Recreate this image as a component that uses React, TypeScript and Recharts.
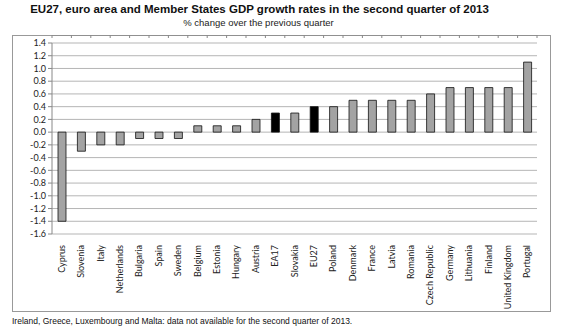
import { BarChart, Bar, XAxis, YAxis, CartesianGrid, ReferenceLine, Cell } from 'recharts';

const countries = [
  'Cyprus', 'Slovenia', 'Italy', 'Netherlands', 'Bulgaria', 'Spain', 'Sweden', 'Belgium', 'Estonia',
  'Hungary', 'Austria', 'EA17', 'Slovakia', 'EU27', 'Poland', 'Denmark', 'France', 'Latvia', 'Romania',
  'Czech Republic', 'Germany', 'Lithuania', 'Finland', 'United Kingdom', 'Portugal',
];
const growth = [
  -1.4, -0.3, -0.2, -0.2, -0.1, -0.1, -0.1, 0.1, 0.1,
  0.1, 0.2, 0.3, 0.3, 0.4, 0.4, 0.5, 0.5, 0.5, 0.5,
  0.6, 0.7, 0.7, 0.7, 0.7, 1.1,
];
const aggregates = ['EA17', 'EU27'];
const yTicks = [-1.6, -1.4, -1.2, -1.0, -0.8, -0.6, -0.4, -0.2, 0, 0.2, 0.4, 0.6, 0.8, 1.0, 1.2, 1.4];

const data = countries.map((c, i) => ({ name: c, value: growth[i] }));

const labelFont = 'Lato, "Open Sans", sans-serif';

function CountryTick(props: any) {
  const { x, y, payload } = props;
  return (
    <g transform={`translate(${x},${y + 3}) rotate(-90)`}>
      <text x={0} y={0} dy={3} textAnchor="end" fontSize={9} fontFamily={labelFont} fill="#222">
        {payload.value}
      </text>
    </g>
  );
}

// zero line with the small category tick marks hanging below it
function ZeroAxis(props: any) {
  const { x1, x2, y } = props;
  const n = data.length;
  const step = (x2 - x1) / n;
  const marks = [];
  for (let i = 0; i <= n; i++) {
    const x = x1 + i * step;
    marks.push(<line key={i} x1={x} x2={x} y1={y} y2={y + 3} stroke="#888" />);
  }
  return (
    <g>
      <line x1={x1} x2={x2} y1={y} y2={y} stroke="#888" />
      {marks}
    </g>
  );
}

export default function App() {
  return (
    <div style={{ position: 'absolute', left: 0, top: 0, width: 570, height: 328, background: '#fff', fontFamily: 'Arial, "Liberation Sans", sans-serif' }}>
      <div style={{ position: 'absolute', left: 0, width: 519, top: 3, textAlign: 'center', fontSize: 11.5, fontWeight: 'bold', color: '#111' }}>
        EU27, euro area and Member States GDP growth rates in the second quarter of 2013
      </div>
      <div style={{ position: 'absolute', left: 0, width: 517, top: 17, textAlign: 'center', fontSize: 9.5, color: '#222' }}>
        % change over the previous quarter
      </div>
      <div style={{ position: 'absolute', left: 12, top: 35, width: 539, height: 277, border: '1px solid #999', boxSizing: 'border-box' }} />
      <div style={{ position: 'absolute', left: 12, top: 35 }}>
        <BarChart width={539} height={277} data={data} margin={{ top: 8, right: 14, left: 0, bottom: 0 }} barSize={8}>
          <CartesianGrid vertical={false} stroke="#b5b5b5" />
          <XAxis dataKey="name" interval={0} height={78} axisLine={false} tickLine={false} tick={<CountryTick />} />
          <YAxis
            width={40}
            domain={[-1.6, 1.4]}
            ticks={yTicks}
            interval={0}
            tickFormatter={(v: number) => v.toFixed(1)}
            stroke="#888"
            tickSize={4}
            tick={{ fontSize: 9, fill: '#222', fontFamily: labelFont }}
          />
          <ReferenceLine y={0} shape={<ZeroAxis />} />
          <Bar dataKey="value" stroke="#111" strokeWidth={0.8} isAnimationActive={false}>
            {data.map(d => (
              <Cell key={d.name} fill={aggregates.includes(d.name) ? '#000' : '#a3a3a3'} />
            ))}
          </Bar>
        </BarChart>
      </div>
      <div style={{ position: 'absolute', left: 12, top: 316, fontSize: 8.5, color: '#111' }}>
        Ireland, Greece, Luxembourg and Malta: data not available for the second quarter of 2013.
      </div>
    </div>
  );
}
